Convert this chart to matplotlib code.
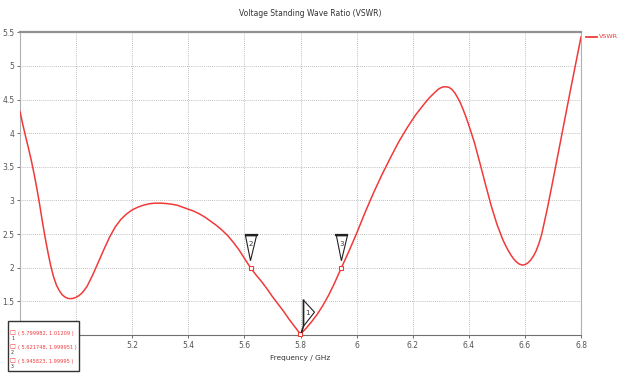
import matplotlib
matplotlib.use("Agg")
import matplotlib.pyplot as plt
import matplotlib.transforms as mtransforms
import matplotlib.font_manager as fm
from matplotlib.patches import Polygon, Rectangle
from matplotlib.lines import Line2D

plt.rcParams['font.family'] = ['DejaVu Sans']

# use DejaVu Sans Condensed for the marker box if it is installed
HAS_COND = any(f.name == 'DejaVu Sans' and str(f.stretch).lower() in ('condensed', 'semi-condensed')
               for f in fm.fontManager.ttflist)

freq = [4.80, 4.81, 4.82, 4.83, 4.84, 4.85, 4.86, 4.87, 4.88, 4.89, 4.90, 4.91, 4.92, 4.93,
        4.94, 4.95, 4.96, 4.97, 4.98, 4.99, 5.00, 5.01, 5.02, 5.03, 5.04, 5.06, 5.08, 5.10,
        5.12, 5.14, 5.16, 5.18, 5.20, 5.22, 5.24, 5.26, 5.28, 5.30, 5.32, 5.34, 5.36, 5.38,
        5.40, 5.42, 5.44, 5.46, 5.48, 5.50, 5.52, 5.54, 5.56, 5.58, 5.60, 5.621748, 5.64,
        5.66, 5.68, 5.70, 5.72, 5.74, 5.76, 5.78, 5.799982, 5.82, 5.84, 5.86, 5.88, 5.90,
        5.92, 5.945823, 5.97, 6.00, 6.03, 6.06, 6.09, 6.12, 6.15, 6.18, 6.21, 6.24, 6.26,
        6.28, 6.29, 6.30, 6.31, 6.32, 6.33, 6.34, 6.35, 6.36, 6.37, 6.38, 6.39, 6.40, 6.42,
        6.44, 6.46, 6.48, 6.50, 6.52, 6.53, 6.54, 6.55, 6.56, 6.57, 6.58, 6.59, 6.60, 6.61,
        6.62, 6.63, 6.64, 6.65, 6.66, 6.68, 6.70, 6.72, 6.74, 6.76, 6.78, 6.80]
vswr = [4.32, 4.13, 3.95, 3.78, 3.60, 3.40, 3.18, 2.94, 2.68, 2.44, 2.22, 2.02, 1.86, 1.74,
        1.66, 1.60, 1.565, 1.545, 1.54, 1.545, 1.56, 1.585, 1.62, 1.67, 1.73, 1.90, 2.09, 2.28,
        2.46, 2.61, 2.72, 2.80, 2.86, 2.90, 2.93, 2.95, 2.96, 2.96, 2.955, 2.945, 2.93, 2.90,
        2.87, 2.84, 2.80, 2.75, 2.69, 2.63, 2.56, 2.48, 2.38, 2.27, 2.14, 1.999951, 1.90,
        1.80, 1.69, 1.57, 1.46, 1.35, 1.23, 1.12, 1.01209, 1.10, 1.20, 1.31, 1.44, 1.59,
        1.76, 1.99995, 2.22, 2.51, 2.82, 3.11, 3.38, 3.63, 3.87, 4.08, 4.27, 4.43, 4.53,
        4.61, 4.65, 4.675, 4.69, 4.69, 4.68, 4.65, 4.60, 4.53, 4.45, 4.35, 4.24, 4.12, 3.86,
        3.55, 3.23, 2.92, 2.65, 2.43, 2.34, 2.26, 2.19, 2.13, 2.085, 2.055, 2.04, 2.045, 2.07,
        2.11, 2.17, 2.25, 2.36, 2.50, 2.88, 3.30, 3.73, 4.16, 4.59, 5.01, 5.43]

marker_ids = ['1', '2', '3']
marker_freq = [5.799982, 5.621748, 5.945823]
marker_vswr = [1.01209, 1.999951, 1.99995]
marker_text = ['( 5.799982, 1.01209 )', '( 5.621748, 1.999951 )', '( 5.945823, 1.99995 )']

xticks = [4.8, 5.0, 5.2, 5.4, 5.6, 5.8, 6.0, 6.2, 6.4, 6.6, 6.8]
xtick_labels = ['', '', '5.2', '5.4', '5.6', '5.8', '6', '6.2', '6.4', '6.6', '6.8']
yticks = [1.0, 1.5, 2.0, 2.5, 3.0, 3.5, 4.0, 4.5, 5.0, 5.5]
ytick_labels = ['', '1.5', '2', '2.5', '3', '3.5', '4', '4.5', '5', '5.5']

W, H = 617, 374
fig = plt.figure(figsize=(W / 100, H / 100), dpi=100)
ax = fig.add_axes([20 / W, (H - 335) / H, (581 - 20) / W, (335 - 32.3) / H])

red = '#f03a3a'
ax.plot(freq, vswr, color=red, lw=1.1, zorder=3, solid_joinstyle='round')
ax.set_xlim(4.8, 6.8)
ax.set_ylim(1.0, 5.5)
ax.set_xticks(xticks)
ax.set_xticklabels(xtick_labels)
ax.set_yticks(yticks)
ax.set_yticklabels(ytick_labels)
ax.tick_params(labelsize=5.5, length=2, width=0.6, colors='#555555', pad=2)
ax.grid(True, linestyle=(0, (1, 1.5)), color='#aaaaaa', lw=0.6)
for s in ['left', 'right']:
    ax.spines[s].set_color('#b0b0b0')
    ax.spines[s].set_linewidth(0.8)
ax.spines['top'].set_color('#909090')
ax.spines['top'].set_linewidth(1.6)
ax.spines['bottom'].set_color('#707070')
ax.spines['bottom'].set_linewidth(0.8)

ax.set_xlabel('Frequency / GHz', fontsize=5.3, color='#333333', labelpad=4)
fig.text(310 / W, 1 - 13 / H, 'Voltage Standing Wave Ratio (VSWR)', fontsize=5.5,
         color='#333333', ha='center', va='center')

# markers
ax.plot(marker_freq, marker_vswr, linestyle='none', marker='s', ms=3.5, mfc='white',
        mec=red, mew=0.8, zorder=5, clip_on=False)

for mid, fx, fy in zip(marker_ids, marker_freq, marker_vswr):
    tr = mtransforms.Affine2D() + mtransforms.ScaledTranslation(fx, fy, ax.transData)
    if mid == '1':
        poly = Polygon([(3, 34), (14, 22), (3, 8)], closed=True, fc='white', ec='#222222',
                       lw=0.8, transform=tr, zorder=6, clip_on=False)
        ax.add_patch(poly)
        ax.add_line(Line2D([3, 3, 1], [34, 8, 2], color='#222222', lw=1.2, transform=tr,
                           zorder=7, clip_on=False))
        ax.text(6.5, 21, mid, transform=tr, fontsize=5,
                ha='center', va='center', color='#333333', zorder=8)
    else:
        poly = Polygon([(-5, 32), (6, 32), (0, 7)], closed=True, fc='white', ec='#222222',
                       lw=0.8, transform=tr, zorder=6, clip_on=False)
        ax.add_patch(poly)
        ax.add_line(Line2D([-5, 6], [32.5, 32.5], color='#222222', lw=1.6, transform=tr,
                           zorder=7, clip_on=False))
        ax.text(0.5, 24, mid, transform=tr, fontsize=5, ha='center', va='center',
                color='#333333', zorder=8)

# marker info box
box = Rectangle((8 / W, 1 - 371 / H), (79 - 8) / W, (371 - 321) / H, transform=fig.transFigure,
                fc='white', ec='#333333', lw=1.0, zorder=10)
fig.patches.append(box)
box_fs = 4.1 if HAS_COND else 3.5
box_stretch = 'condensed' if HAS_COND else 'normal'
for i, (mid, txt) in enumerate(zip(marker_ids, marker_text)):
    yy = 1 - (333 + i * 14) / H
    fig.text(12.5 / W, yy, '\u25a1', fontsize=4.5, color=red, ha='center', va='center', zorder=11)
    fig.text(12.5 / W, yy - 5 / H, mid, fontsize=3.3, color='#333333', ha='center', va='center',
             zorder=11)
    fig.text(18.5 / W, yy, txt, fontsize=box_fs, fontstretch=box_stretch, color=red,
             ha='left', va='center', zorder=11)

# legend
fig.add_artist(Line2D([586 / W, 597 / W], [1 - 37 / H, 1 - 37 / H], color=red, lw=1.3,
                      transform=fig.transFigure))
fig.text(599 / W, 1 - 37 / H, 'VSWR', fontsize=4.6, color=red, ha='left', va='center')

fig.savefig('out.png', dpi=100)
